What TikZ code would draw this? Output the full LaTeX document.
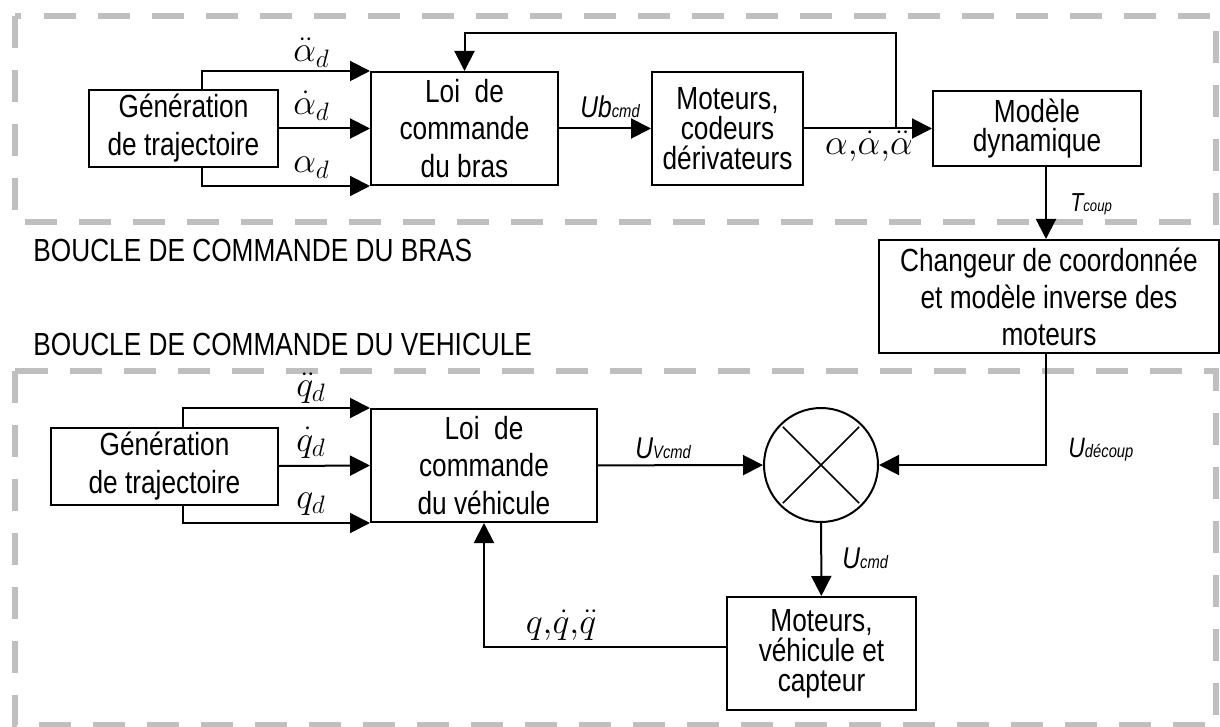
\RequirePackage{fix-cm}
\documentclass[tikz,border=0pt]{standalone}
\usepackage{fontspec}
\setmainfont[FakeStretch=0.82]{Liberation Sans}
\usetikzlibrary{arrows.meta,calc}

% signal name with a small index on the baseline
\newcommand{\signame}[4]{{\fontsize{#3}{#3}\selectfont\itshape #1}{\fontsize{#4}{#4}\selectfont\itshape #2}}

\begin{document}
\begin{tikzpicture}[
                x=0.5pt, y=-0.5pt,
                box/.style={
                    draw,
                    line width=1pt,
                    rectangle,
                    inner sep=0pt,
                    align=center,
                    font=\fontsize{16}{18.75}\selectfont
                },
                tightbox/.style={
                    box,
                    font=\fontsize{16}{15}\selectfont
                },
                sumnode/.style={
                    circle,
                    draw,
                    line width=1pt,
                    minimum size=57pt,
                    inner sep=0pt
                },
                arrow/.style={
                    -{Triangle[length=10pt,width=10pt]},
                    line width=1pt
                },
                frame/.style={
                    draw=gray!50,
                    line width=3pt,
                    dash pattern=on 16pt off 11pt
                },
                var/.style={
                    inner sep=0pt,
                    font=\fontsize{18}{18}\selectfont
                },
                title/.style={
                    inner sep=0pt,
                    anchor=base west,
                    font=\fontsize{16}{16}\selectfont
                }
            ]
                \useasboundingbox (0,0) rectangle (1220,727);

                % dashed frames of the two loops
                \draw[frame] (14.5,16) rectangle (1216,222);
                \draw[frame] (14.5,371) rectangle (1216,725);

                \node[title] (titlebras) at (33,262) {BOUCLE DE COMMANDE DU BRAS};
                \node[title] (titleveh) at (33,355) {BOUCLE DE COMMANDE DU VEHICULE};

                % arm loop
                \node[box, minimum width=94.5pt, minimum height=38.5pt, font=\fontsize{16}{19}\selectfont] (gen1) at (183.5,128.5) {Génération\\de trajectoire};
                \node[box, minimum width=93.5pt, minimum height=56.5pt] (loi1) at (464.5,128.5) {Loi\ \ de\\commande\\du bras};
                \node[tightbox, minimum width=75.5pt, minimum height=56.5pt] (mot1) at (727.5,128.5) {Moteurs,\\codeurs\\dérivateurs};
                \node[tightbox, minimum width=104pt, minimum height=37.5pt, font=\fontsize{16}{14.5}\selectfont] (modele) at (1037,128.5) {Modèle\\dynamique};
                \node[box, minimum width=170pt, minimum height=56.5pt, font=\fontsize{16}{18.5}\selectfont] (changeur) at (1049,296.5) {Changeur de coordonnée\\et modèle inverse des\\moteurs};

                % vehicle loop
                \node[box, minimum width=113.5pt, minimum height=38.5pt, font=\fontsize{16}{19}\selectfont] (gen2) at (164.5,466) {Génération\\de trajectoire};
                \node[box, minimum width=113pt, minimum height=56.5pt] (loi2) at (484,465.5) {Loi\ \ de\\commande\\du véhicule};
                \node[sumnode] (sum) at (821,465) {};
                \node[tightbox, minimum width=94.5pt, minimum height=56.5pt] (mot2) at (821.5,653.5) {Moteurs,\\véhicule et\\capteur};

                \draw[line width=0.8pt] ($(sum.center)!0.93!(sum.north west)$) -- ($(sum.center)!0.93!(sum.south east)$);
                \draw[line width=0.8pt] ($(sum.center)!0.93!(sum.north east)$) -- ($(sum.center)!0.93!(sum.south west)$);

                \coordinate (split1) at (202,0);
                \coordinate (split2) at (183,0);
                \coordinate (fbsplit) at (896,128);
                \coordinate (fbtop) at (896,33);
                \coordinate (tcol) at (1046,0);

                % arm loop connectors
                \draw[arrow] (gen1.north -| split1) |- (loi1.north west);
                \draw[arrow] (gen1.east) -- (loi1.west);
                \draw[arrow] (gen1.south -| split1) |- (loi1.south west);
                \draw[arrow] (loi1) -- (mot1);
                \draw[arrow] (mot1) -- (modele);
                \draw[arrow] (fbsplit) -- (fbtop) -| (loi1.north);
                \draw[arrow] (modele.south -| tcol) -- (changeur.north -| tcol);
                \draw[arrow] (changeur.south -| tcol) |- (sum.east);

                % vehicle loop connectors
                \draw[arrow] (gen2.north -| split2) |- (loi2.north west);
                \draw[arrow] (gen2.east) -- (loi2.west);
                \draw[arrow] (gen2.south -| split2) |- (loi2.south west);
                \draw[arrow] (loi2) -- (sum);
                \draw[arrow] (sum) -- (mot2);
                \draw[arrow] ([yshift=3.25pt]mot2.west) -| (loi2.south);

                % signal labels
                \node[var, anchor=base] (aldd) at (311.5,62) {$\ddot{\alpha}_d$};
                \node[var, anchor=base] (ald) at (311.5,115) {$\dot{\alpha}_d$};
                \node[var, anchor=base] (al) at (311.5,173) {$\alpha_d$};
                \node[var, anchor=base] (alall) at (869,155) {$\alpha{,}\dot{\alpha}{,}\ddot{\alpha}$};
                \node[var, anchor=base] (qdd) at (311,396) {$\ddot{q}_d$};
                \node[var, anchor=base] (qd) at (311,451) {$\dot{q}_d$};
                \node[var, anchor=base] (q) at (311,508) {$q_d$};
                \node[var, anchor=base] (qall) at (561,633) {$q{,}\dot{q}{,}\ddot{q}$};

                \node[var, anchor=base west] (ubcmd) at (580,118) {\signame{Ub}{cmd}{15}{9}};
                \node[var, anchor=base west] (tcoup) at (1070,212) {\signame{T}{coup}{13}{8}};
                \node[var, anchor=base west] (udecoup) at (1068,457) {\signame{U}{découp}{14}{9}};
                \node[var, anchor=base west] (uvcmd) at (635,458) {\signame{U}{Vcmd}{15}{9}};
                \node[var, anchor=base west] (ucmd) at (842,568) {\signame{U}{cmd}{15}{9}};
        \end{tikzpicture}
\end{document}
